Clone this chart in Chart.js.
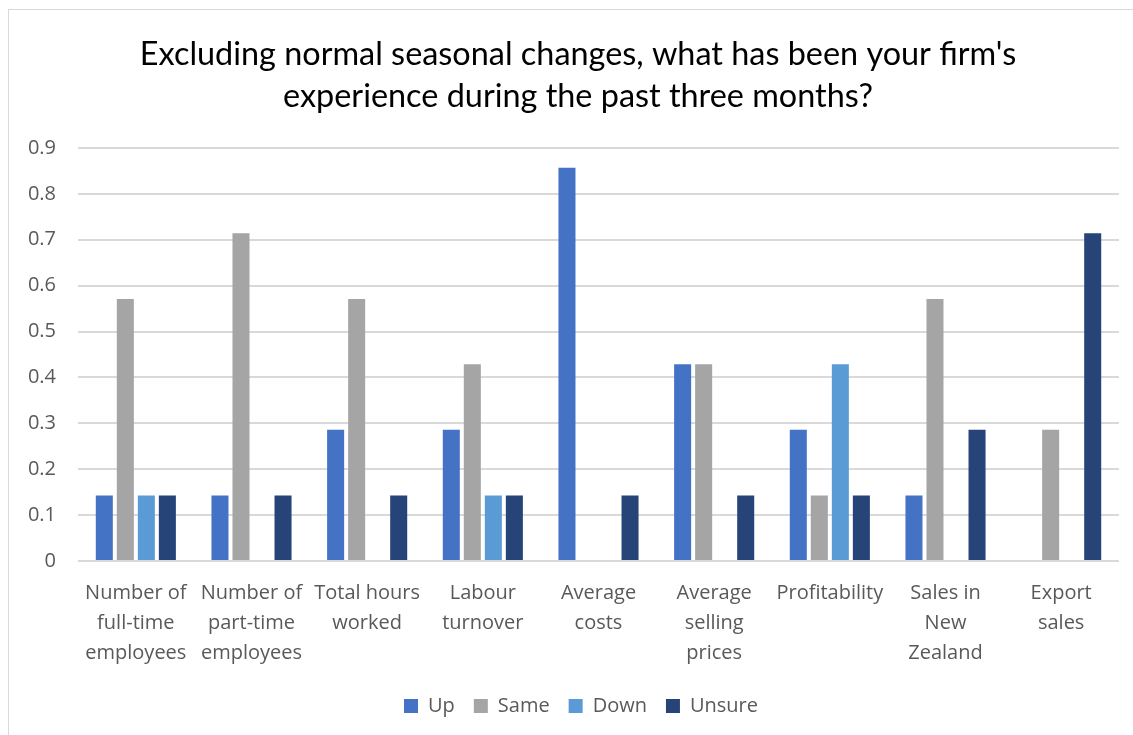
<!DOCTYPE html>
<html>
<head>
<meta charset="utf-8">
<script src="https://cdn.jsdelivr.net/npm/chart.js@4"></script>
<style>
  html, body { margin: 0; padding: 0; background: #fff; }
  body { width: 1133px; height: 735px; overflow: hidden; position: relative; }
  #frame { position: absolute; left: 8px; top: 9px; width: 1140px; height: 760px; border: 1px solid #d9d9d9; box-sizing: border-box; }
  #wrap { position: absolute; left: 0; top: 0; width: 1133px; height: 735px; }
</style>
</head>
<body>
<div id="frame"></div>
<div id="wrap"><canvas id="c" width="1133" height="735"></canvas></div>
<script>
const categories = [
  ["Number of", "full-time", "employees"],
  ["Number of", "part-time", "employees"],
  ["Total hours", "worked"],
  ["Labour", "turnover"],
  ["Average", "costs"],
  ["Average", "selling", "prices"],
  ["Profitability"],
  ["Sales in", "New", "Zealand"],
  ["Export", "sales"]
];
const seriesNames = ["Up", "Same", "Down", "Unsure"];
const upValues     = [0.143, 0.143, 0.286, 0.286, 0.857, 0.429, 0.286, 0.143, 0];
const sameValues   = [0.571, 0.714, 0.571, 0.429, 0,     0.429, 0.143, 0.571, 0.286];
const downValues   = [0.143, 0,     0,     0.143, 0,     0,     0.429, 0,     0];
const unsureValues = [0.143, 0.143, 0.143, 0.143, 0.143, 0.143, 0.143, 0.286, 0.714];
const yTicks = [0, 0.1, 0.2, 0.3, 0.4, 0.5, 0.6, 0.7, 0.8, 0.9];
const titleLines = ["Excluding normal seasonal changes, what has been your firm's", "experience during the past three months?"];

const colors = ["#4472C4", "#A5A5A5", "#5B9BD5", "#264478"];
const values = [upValues, sameValues, downValues, unsureValues];
const TFONT = "Lato, 'Open Sans', sans-serif";
const FONT = "'Open Sans', Lato, sans-serif";

const blockShift = {
  id: 'blockShift',
  afterLayout(chart) {
    if (chart.titleBlock) { chart.titleBlock.left = 37; }
    if (chart.legend) { chart.legend.left = 43; }
  }
};

new Chart(document.getElementById('c'), {
  type: 'bar',
  data: {
    labels: categories,
    datasets: seriesNames.map((n, i) => ({
      label: n,
      data: values[i],
      backgroundColor: colors[i],
      borderWidth: 0,
      barPercentage: 0.81,
      categoryPercentage: 0.727
    }))
  },
  plugins: [blockShift],
  options: {
    responsive: false,
    animation: false,
    devicePixelRatio: 1,
    layout: { padding: { left: 5, right: 14, top: 34, bottom: 9 } },
    plugins: {
      title: {
        display: true,
        text: titleLines,
        color: '#000',
        font: { family: TFONT, size: 32.4, weight: 'normal', lineHeight: 1.296 },
        padding: { top: 0, bottom: 30 }
      },
      legend: {
        position: 'bottom',
        labels: {
          color: '#595959',
          font: { family: FONT, size: 20 },
          boxWidth: 14, boxHeight: 14,
          padding: 19
        }
      },
      tooltip: { enabled: false }
    },
    scales: {
      x: {
        grid: { display: false },
        border: { display: false },
        ticks: {
          color: '#595959',
          font: { family: FONT, size: 20, lineHeight: 1.5 },
          maxRotation: 0, autoSkip: false, padding: 9
        }
      },
      y: {
        min: 0, max: 0.9,
        afterBuildTicks: (axis) => { axis.ticks = yTicks.map(v => ({ value: v })); },
        afterFit: (axis) => { axis.width = 73; },
        grid: { color: '#d9d9d9', lineWidth: 2, drawTicks: false },
        border: { display: false },
        ticks: {
          color: '#595959',
          font: { family: FONT, size: 20 },
          padding: 22,
          callback: (v) => (Math.round(v * 10) / 10).toString()
        }
      }
    }
  }
});
</script>
</body>
</html>
